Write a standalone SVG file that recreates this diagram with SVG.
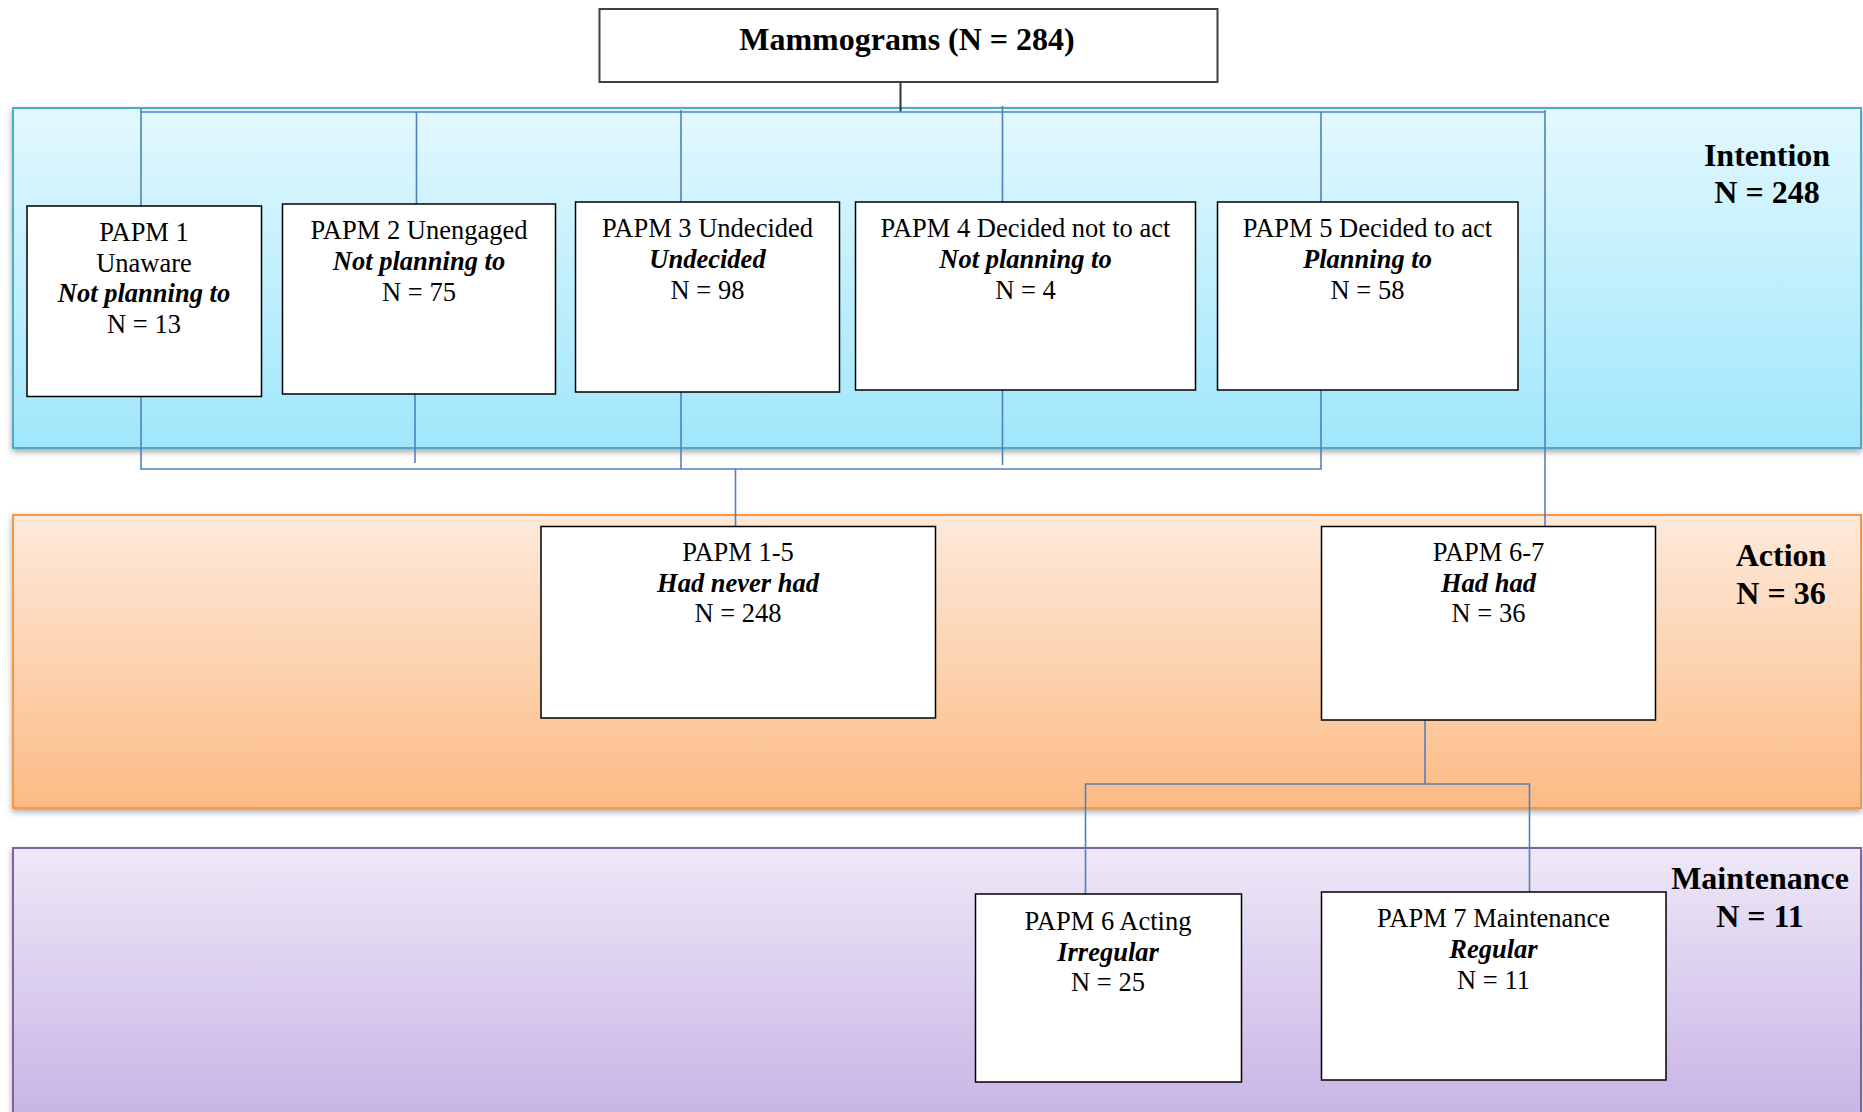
<svg xmlns="http://www.w3.org/2000/svg" width="1863" height="1112" viewBox="0 0 1863 1112">
  <defs>
    <linearGradient id="gIntention" x1="0" y1="0" x2="0" y2="1">
      <stop offset="0" stop-color="#e2f8fe"/>
      <stop offset="1" stop-color="#a0e7fb"/>
    </linearGradient>
    <linearGradient id="gAction" x1="0" y1="0" x2="0" y2="1">
      <stop offset="0" stop-color="#fdeadb"/>
      <stop offset="1" stop-color="#fcbb85"/>
    </linearGradient>
    <linearGradient id="gMaint" x1="0" y1="0" x2="0" y2="1">
      <stop offset="0" stop-color="#eee8f7"/>
      <stop offset="1" stop-color="#c6b2e4"/>
    </linearGradient>
    <filter id="shadow" x="-2%" y="-10%" width="104%" height="125%">
      <feDropShadow dx="0" dy="3" stdDeviation="3" flood-color="#000" flood-opacity="0.35"/>
    </filter>
  </defs>
  <style>
    .band { stroke-width: 2; }
    .box { fill: #ffffff; stroke: #000000; stroke-width: 1.5; }
    .t { font-family: "Liberation Serif", "Times New Roman", serif; font-size: 26.5px; fill: #000; text-anchor: middle; }
    .bi { font-weight: bold; font-style: italic; }
    .lbl { font-family: "Liberation Serif", "Times New Roman", serif; font-size: 32px; font-weight: bold; fill: #000; text-anchor: middle; }
    .conn { fill: none; stroke: #4f81bd; stroke-width: 1.6; }
    .connDark { fill: none; stroke: #333333; stroke-width: 2; }
  </style>

  <rect width="1863" height="1112" fill="#ffffff"/>

  <!-- stage bands -->
  <g id="band-intention">
    <rect class="band" x="13" y="108" width="1848" height="340" fill="url(#gIntention)" stroke="#4bacc6" filter="url(#shadow)"/>
    <text class="lbl" x="1767" y="166">Intention</text>
    <text class="lbl" x="1767" y="203">N = 248</text>
  </g>
  <g id="band-action">
    <rect class="band" x="13" y="515" width="1848" height="293" fill="url(#gAction)" stroke="#f79646" filter="url(#shadow)"/>
    <text class="lbl" x="1781" y="566">Action</text>
    <text class="lbl" x="1781" y="604">N = 36</text>
  </g>
  <g id="band-maintenance">
    <rect class="band" x="13" y="848" width="1848" height="280" fill="url(#gMaint)" stroke="#8064a2" filter="url(#shadow)"/>
    <text class="lbl" x="1760" y="889">Maintenance</text>
    <text class="lbl" x="1760" y="927">N = 11</text>
  </g>

  <!-- connectors -->
  <g id="connectors">
    <path class="connDark" d="M900.5 82 V112"/>
    <path class="conn" d="M141 112 H1545"/>
    <path class="conn" d="M141 108 V206"/>
    <path class="conn" d="M416.5 112 V204"/>
    <path class="conn" d="M681 110 V202"/>
    <path class="conn" d="M1002.5 106 V202"/>
    <path class="conn" d="M1321 112 V202"/>
    <path class="conn" d="M1545 110 V526"/>
    <path class="conn" d="M141 397 V469 H1321 V390"/>
    <path class="conn" d="M415 394 V463"/>
    <path class="conn" d="M681 392 V469"/>
    <path class="conn" d="M1002.5 390 V465"/>
    <path class="conn" d="M735.5 469 V526"/>
    <path class="conn" d="M1425 720 V784"/>
    <path class="conn" d="M1085.5 894 V784 H1529.5 V892"/>
  </g>

  <!-- nodes -->
  <g id="node-mammograms">
    <rect x="599.5" y="9" width="618" height="73" fill="#ffffff" stroke="#404040" stroke-width="2"/>
    <text class="lbl" x="907" y="50">Mammograms (N = 284)</text>
  </g>

  <g id="node-papm1">
    <rect class="box" x="27" y="206" width="234.5" height="190.5"/>
    <text class="t" x="144" y="241">PAPM 1</text>
    <text class="t" x="144" y="272">Unaware</text>
    <text class="t bi" x="144" y="302">Not planning to</text>
    <text class="t" x="144" y="333">N = 13</text>
  </g>

  <g id="node-papm2">
    <rect class="box" x="282.5" y="204" width="273" height="190"/>
    <text class="t" x="419" y="239">PAPM 2 Unengaged</text>
    <text class="t bi" x="419" y="269.5">Not planning to</text>
    <text class="t" x="419" y="300.5">N = 75</text>
  </g>

  <g id="node-papm3">
    <rect class="box" x="575.5" y="202" width="264" height="190"/>
    <text class="t" x="707.5" y="237">PAPM 3 Undecided</text>
    <text class="t bi" x="707.5" y="268">Undecided</text>
    <text class="t" x="707.5" y="299">N = 98</text>
  </g>

  <g id="node-papm4">
    <rect class="box" x="855.5" y="202" width="340" height="188"/>
    <text class="t" x="1025.5" y="237">PAPM 4 Decided not to act</text>
    <text class="t bi" x="1025.5" y="268">Not planning to</text>
    <text class="t" x="1025.5" y="298.5">N = 4</text>
  </g>

  <g id="node-papm5">
    <rect class="box" x="1217.5" y="202" width="300.5" height="188"/>
    <text class="t" x="1367.5" y="237">PAPM 5 Decided to act</text>
    <text class="t bi" x="1367.5" y="268">Planning to</text>
    <text class="t" x="1367.5" y="298.5">N = 58</text>
  </g>

  <g id="node-papm1-5">
    <rect class="box" x="541" y="526.5" width="394.5" height="191.5"/>
    <text class="t" x="738" y="561">PAPM 1-5</text>
    <text class="t bi" x="738" y="591.5">Had never had</text>
    <text class="t" x="738" y="622">N = 248</text>
  </g>

  <g id="node-papm6-7">
    <rect class="box" x="1321.5" y="526.5" width="334" height="193.5"/>
    <text class="t" x="1488.5" y="561">PAPM 6-7</text>
    <text class="t bi" x="1488.5" y="591.5">Had had</text>
    <text class="t" x="1488.5" y="622">N = 36</text>
  </g>

  <g id="node-papm6">
    <rect class="box" x="975.5" y="894" width="266" height="188"/>
    <text class="t" x="1108" y="930">PAPM 6 Acting</text>
    <text class="t bi" x="1108" y="961">Irregular</text>
    <text class="t" x="1108" y="990.5">N = 25</text>
  </g>

  <g id="node-papm7">
    <rect class="box" x="1321.5" y="892" width="344.5" height="188"/>
    <text class="t" x="1493.5" y="927">PAPM 7 Maintenance</text>
    <text class="t bi" x="1493.5" y="958">Regular</text>
    <text class="t" x="1493.5" y="989">N = 11</text>
  </g>
</svg>
